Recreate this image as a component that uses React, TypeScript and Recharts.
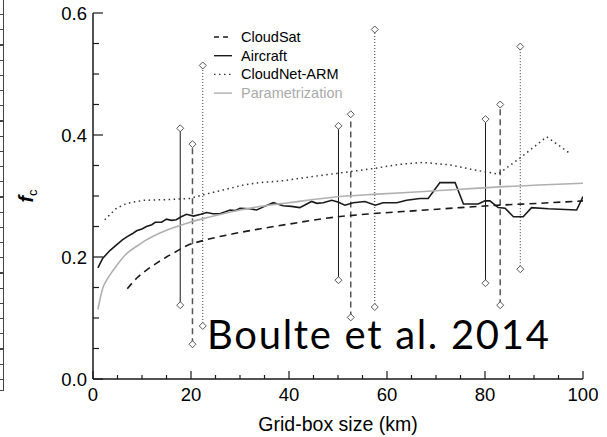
import React from "react";
import { ComposedChart, Line, XAxis, YAxis, Legend } from "recharts";

// axis ticks
const xTicks = [0, 5, 10, 15, 20, 25, 30, 35, 40, 45, 50, 55, 60, 65, 70, 75, 80, 85, 90, 95, 100];
const xMajor = [0, 20, 40, 60, 80, 100];
const yTicks = [0, 0.05, 0.1, 0.15, 0.2, 0.25, 0.3, 0.35, 0.4, 0.45, 0.5, 0.55, 0.6];
const yMajor = [0, 0.2, 0.4, 0.6];

// curves (grid-box size km -> cloud fraction)
const aircraftX = [1, 2, 3.5, 4.8, 6, 6.9, 8, 8.9, 10, 10.9, 12, 12.7, 14, 15, 16, 17, 18, 19.1, 20.5, 22, 23.2, 24.5, 25.9, 27, 28, 29, 30, 32, 33.4, 35, 36.8, 38.8, 40.5, 42.2, 44.6, 45.7, 47, 48.7, 50, 51.4, 53.1, 55.5, 57.6, 59.2, 62, 64, 66.7, 68.4, 70.8, 73.9, 75.6, 78.6, 80, 81, 82.7, 84.1, 85.8, 87.8, 89.5, 92.9, 98.7, 100];
const aircraftY = [0.182, 0.198, 0.211, 0.22, 0.228, 0.233, 0.238, 0.243, 0.246, 0.25, 0.253, 0.257, 0.257, 0.262, 0.26, 0.261, 0.266, 0.27, 0.267, 0.27, 0.273, 0.271, 0.271, 0.274, 0.277, 0.276, 0.28, 0.279, 0.277, 0.283, 0.289, 0.284, 0.283, 0.281, 0.291, 0.288, 0.289, 0.293, 0.29, 0.285, 0.289, 0.291, 0.285, 0.289, 0.289, 0.293, 0.296, 0.296, 0.322, 0.322, 0.287, 0.287, 0.292, 0.292, 0.281, 0.28, 0.266, 0.266, 0.281, 0.279, 0.277, 0.299];

const cloudsatX = [7, 9, 11, 13, 15, 17, 19, 23, 28.6, 34, 40, 49, 57, 66, 75, 83, 91, 100];
const cloudsatY = [0.148, 0.166, 0.179, 0.19, 0.2, 0.209, 0.218, 0.228, 0.238, 0.246, 0.254, 0.265, 0.271, 0.276, 0.281, 0.285, 0.288, 0.292];

const cloudnetX = [2.4, 3.5, 4.8, 6.9, 10.3, 15, 19.8, 22.5, 26.6, 30.7, 34, 38.8, 44, 49.7, 57.2, 62.7, 67.4, 72.9, 77.6, 82.7, 87.1, 92.6, 97.3];
const cloudnetY = [0.261, 0.27, 0.28, 0.288, 0.293, 0.294, 0.296, 0.302, 0.31, 0.318, 0.322, 0.325, 0.331, 0.337, 0.345, 0.352, 0.355, 0.351, 0.343, 0.336, 0.362, 0.397, 0.37];

const paramX = [1, 2, 3, 4.2, 5.5, 6.9, 9, 10.9, 13, 15, 17.5, 19.8, 23, 26.6, 30, 33.4, 40, 49, 58, 66.7, 75, 83, 91, 100];
const paramY = [0.114, 0.149, 0.165, 0.179, 0.193, 0.206, 0.218, 0.228, 0.237, 0.244, 0.251, 0.257, 0.264, 0.271, 0.277, 0.282, 0.289, 0.298, 0.303, 0.307, 0.311, 0.315, 0.318, 0.321];

// spread bars (min / max)
const aircraftBarX = [17.8, 50.1, 80.1];
const aircraftBarLo = [0.121, 0.162, 0.157];
const aircraftBarHi = [0.411, 0.415, 0.426];
const cloudsatBarX = [20.3, 52.6, 83.1];
const cloudsatBarLo = [0.057, 0.101, 0.121];
const cloudsatBarHi = [0.385, 0.434, 0.45];
const cloudnetBarX = [22.4, 57.5, 87.2];
const cloudnetBarLo = [0.087, 0.118, 0.18];
const cloudnetBarHi = [0.514, 0.573, 0.545];

const toPts = (xs: number[], ys: number[]) => xs.map((x, i) => ({ x, y: ys[i] }));

const FONT = "'Liberation Sans', Arial, Helvetica, sans-serif";
const INK = "#1a1a1a";

const series = [
  { name: "CloudSat", data: toPts(cloudsatX, cloudsatY), stroke: INK, dash: "7 5", width: 1.6, type: "monotone" },
  { name: "Aircraft", data: toPts(aircraftX, aircraftY), stroke: INK, dash: undefined, width: 1.6, type: "linear" },
  { name: "CloudNet-ARM", data: toPts(cloudnetX, cloudnetY), stroke: "#333", dash: "1.5 3.5", width: 1.5, type: "linear" },
  { name: "Parametrization", data: toPts(paramX, paramY), stroke: "#b0b0b0", dash: undefined, width: 1.6, type: "monotone" },
];

const barSets = [
  { id: "ac", xs: aircraftBarX, lo: aircraftBarLo, hi: aircraftBarHi, stroke: INK, dash: undefined, width: 1 },
  { id: "cs", xs: cloudsatBarX, lo: cloudsatBarLo, hi: cloudsatBarHi, stroke: "#555", dash: "6 4", width: 1.5 },
  { id: "cn", xs: cloudnetBarX, lo: cloudnetBarLo, hi: cloudnetBarHi, stroke: "#333", dash: "1 2", width: 1 },
];

const Diamond = (p: any) => {
  const { cx, cy, index } = p;
  if (cx == null || cy == null) return <g key={index} />;
  const r = 3.5;
  return (
    <path
      key={index}
      d={`M${cx},${cy - r}L${cx + r},${cy}L${cx},${cy + r}L${cx - r},${cy}Z`}
      fill="#fff"
      stroke="#555"
      strokeWidth={1}
    />
  );
};

// ticks drawn inside the frame
const BottomTick = (p: any) => {
  const { x, y, payload } = p;
  const major = xMajor.includes(payload.value);
  return (
    <g>
      <line x1={x} x2={x} y1={y} y2={y - (major ? 8 : 4)} stroke={INK} strokeWidth={1.2} />
      {major && (
        <text x={x} y={y + 22} textAnchor="middle" fontSize={18.5} fontFamily={FONT} fill="#000">
          {payload.value}
        </text>
      )}
    </g>
  );
};
const TopTick = (p: any) => {
  const { x, y, payload } = p;
  const major = xMajor.includes(payload.value);
  return <line x1={x} x2={x} y1={y} y2={y + (major ? 8 : 4)} stroke={INK} strokeWidth={1.2} />;
};
const LeftTick = (p: any) => {
  const { x, y, payload } = p;
  const major = yMajor.includes(payload.value);
  return (
    <g>
      <line x1={x} x2={x + (major ? 10 : 6)} y1={y} y2={y} stroke={INK} strokeWidth={1.2} />
      {major && (
        <text x={x - 6} y={y} dy="0.36em" textAnchor="end" fontSize={18.5} fontFamily={FONT} fill="#000">
          {payload.value.toFixed(1)}
        </text>
      )}
    </g>
  );
};
const RightTick = (p: any) => {
  const { x, y, payload } = p;
  const major = yMajor.includes(payload.value);
  return <line x1={x} x2={x - (major ? 10 : 6)} y1={y} y2={y} stroke={INK} strokeWidth={1.2} />;
};

const LegendBox = () => (
  <svg width={160} height={80} style={{ overflow: "visible" }}>
    {series.map((s, i) => (
      <g key={s.name} transform={`translate(0, ${10 + i * 18.7})`}>
        <line x1={3} x2={21} y1={0} y2={0} stroke={s.stroke} strokeWidth={1.4} strokeDasharray={s.name === "CloudSat" ? "5 4" : s.dash} />
        <text x={30} y={0} dy="0.35em" fontSize={14.5} fontFamily={FONT} fill={s.name === "Parametrization" ? "#aaa" : "#000"}>
          {s.name}
        </text>
      </g>
    ))}
  </svg>
);

export default function App() {
  return (
    <div style={{ position: "relative", width: 607, height: 437, background: "#fff", overflow: "hidden" }}>
      <style>{`body{margin:0}`}</style>
      {/* edge of the neighbouring panel */}
      <div
        style={{
          position: "absolute",
          left: 0,
          top: 0,
          width: 3,
          height: 390,
          borderRight: "1.5px solid #444",
          borderBottom: "1.5px solid #444",
          backgroundImage: "repeating-linear-gradient(to bottom, transparent 0px, transparent 14px, #444 14px, #444 15.2px)",
        }}
      />
      <ComposedChart width={607} height={437} margin={{ top: 13, right: 24, bottom: 0, left: 0 }}>
        <XAxis
          xAxisId="b"
          type="number"
          dataKey="x"
          domain={[0, 100]}
          ticks={xTicks}
          interval={0}
          allowDataOverflow
          height={58}
          tickSize={0}
          tickMargin={0}
          tick={<BottomTick />}
          axisLine={{ stroke: INK, strokeWidth: 1.5 }}
          label={{
            content: (p: any) => {
              const vb = p.viewBox;
              return (
                <text x={vb.x + vb.width / 2} y={vb.y + 52} textAnchor="middle" fontSize={19.5} fontFamily={FONT} fill="#000">
                  Grid-box size (km)
                </text>
              );
            },
          }}
        />
        <XAxis
          xAxisId="t"
          orientation="top"
          type="number"
          dataKey="x"
          domain={[0, 100]}
          ticks={xTicks}
          interval={0}
          height={0}
          tickSize={0}
          tickMargin={0}
          tick={<TopTick />}
          axisLine={{ stroke: INK, strokeWidth: 1.5 }}
        />
        <YAxis
          yAxisId="l"
          type="number"
          domain={[0, 0.6]}
          ticks={yTicks}
          interval={0}
          allowDataOverflow
          width={93}
          tickSize={0}
          tickMargin={0}
          tick={<LeftTick />}
          axisLine={{ stroke: INK, strokeWidth: 1.5 }}
          label={{
            content: (p: any) => {
              const vb = p.viewBox;
              const cx = vb.x + 33;
              const cy = vb.y + vb.height / 2;
              return (
                <text x={cx} y={cy} transform={`rotate(-90, ${cx}, ${cy})`} textAnchor="middle" fontFamily={FONT} fill="#000">
                  <tspan fontSize={20} fontStyle="italic" fontWeight="bold">f</tspan>
                  <tspan fontSize={13} dy={4}>c</tspan>
                </text>
              );
            },
          }}
        />
        <YAxis
          yAxisId="r"
          orientation="right"
          type="number"
          domain={[0, 0.6]}
          ticks={yTicks}
          interval={0}
          width={0}
          tickSize={0}
          tickMargin={0}
          tick={<RightTick />}
          axisLine={{ stroke: INK, strokeWidth: 1.5 }}
        />
        {barSets.flatMap((b) =>
          b.xs.map((x, i) => (
            <Line
              key={`${b.id}-${i}`}
              xAxisId="b"
              yAxisId="l"
              data={[
                { x, y: b.lo[i] },
                { x, y: b.hi[i] },
              ]}
              dataKey="y"
              type="linear"
              stroke={b.stroke}
              strokeWidth={b.width}
              strokeDasharray={b.dash}
              dot={Diamond}
              activeDot={false}
              isAnimationActive={false}
              legendType="none"
            />
          ))
        )}
        {series.map((s) => (
          <Line
            key={s.name}
            name={s.name}
            xAxisId="b"
            yAxisId="l"
            data={s.data}
            dataKey="y"
            type={s.type as any}
            stroke={s.stroke}
            strokeWidth={s.width}
            strokeDasharray={s.dash}
            dot={false}
            activeDot={false}
            isAnimationActive={false}
          />
        ))}
        <Legend
          layout="vertical"
          align="center"
          verticalAlign="middle"
          content={() => <LegendBox />}
          wrapperStyle={{ left: 211, top: 27, width: 160, height: 80 }}
        />
      </ComposedChart>
      <div
        style={{
          position: "absolute",
          left: 207,
          top: 310,
          fontFamily: "Lato, 'Open Sans', sans-serif",
          fontSize: 40,
          letterSpacing: "1.7px",
          lineHeight: "48px",
          color: "#000",
          whiteSpace: "nowrap",
        }}
      >
        Boulte et al. 2014
      </div>
    </div>
  );
}
